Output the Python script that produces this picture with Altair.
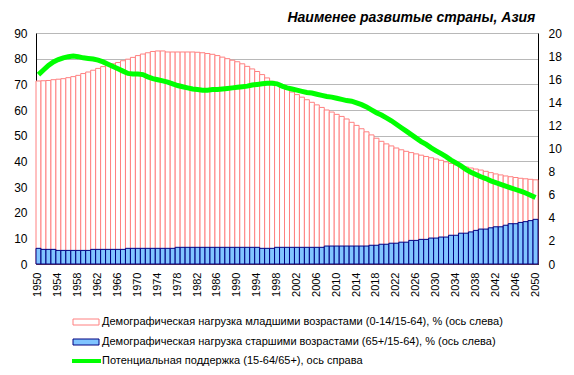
import altair as alt
import pandas as pd

years = list(range(1950, 2051))

young = [
    71.3, 71.4, 71.5, 71.8, 72.0, 72.2, 72.6, 73.0, 73.5, 74.2,
    74.8, 75.5, 76.2, 76.9, 77.5, 78.0, 78.5, 79.2, 79.8, 80.5,
    81.2, 81.8, 82.3, 82.8, 83.0, 83.0, 82.6, 82.6, 82.6, 82.6,
    82.6, 82.6, 82.5, 82.3, 82.0, 81.7, 81.2, 80.6, 80.0, 79.4,
    78.8, 78.0, 77.0, 76.0, 75.0, 73.8, 72.5, 71.2, 70.0, 69.0,
    68.0, 67.0, 66.0, 65.0, 64.0, 63.0, 62.0, 61.0, 60.0, 59.2,
    58.3, 57.5, 56.5, 55.2, 54.0, 52.7, 51.5, 50.3, 49.0, 47.8,
    46.8, 46.0, 45.2, 44.5, 43.9, 43.4, 42.9, 42.4, 41.9, 41.4,
    40.9, 40.4, 39.8, 39.2, 38.6, 38.2, 37.8, 37.4, 37.0, 36.6,
    36.1, 35.6, 35.1, 34.7, 34.3, 34.0, 33.7, 33.4, 33.2, 33.0,
    32.8,
]

old = [
    6.1, 5.7, 5.7, 5.7, 5.3, 5.3, 5.3, 5.3, 5.3, 5.3,
    5.3, 5.7, 5.7, 5.7, 5.7, 5.7, 5.7, 5.7, 6.1, 6.1,
    6.1, 6.1, 6.1, 6.1, 6.1, 6.1, 6.1, 6.1, 6.5, 6.5,
    6.5, 6.5, 6.5, 6.5, 6.5, 6.5, 6.5, 6.5, 6.5, 6.5,
    6.5, 6.5, 6.5, 6.5, 6.5, 6.1, 6.1, 6.1, 6.5, 6.5,
    6.5, 6.5, 6.5, 6.5, 6.5, 6.5, 6.5, 6.5, 7.0, 7.0,
    7.0, 7.0, 7.0, 7.0, 7.0, 7.0, 7.0, 7.3, 7.3, 7.7,
    7.7, 8.1, 8.1, 8.5, 8.5, 9.2, 9.2, 9.6, 9.6, 10.1,
    10.1, 10.5, 10.5, 11.2, 11.2, 12.0, 12.0, 12.5, 13.1, 13.6,
    13.6, 14.1, 14.5, 14.5, 15.1, 15.7, 15.7, 16.2, 16.5, 16.9,
    17.4,
]

support = [
    16.4, 16.8, 17.2, 17.5, 17.7, 17.85, 17.95, 18.0, 17.95, 17.85,
    17.8, 17.75, 17.65, 17.5, 17.3, 17.1, 16.9, 16.7, 16.5, 16.45,
    16.45, 16.4, 16.2, 16.05, 15.95, 15.85, 15.75, 15.6, 15.45, 15.35,
    15.25, 15.15, 15.1, 15.05, 15.05, 15.1, 15.1, 15.15, 15.2, 15.25,
    15.3, 15.35, 15.4, 15.5, 15.55, 15.6, 15.65, 15.65, 15.6, 15.4,
    15.25, 15.15, 15.05, 14.95, 14.85, 14.8, 14.7, 14.6, 14.5, 14.45,
    14.35, 14.25, 14.15, 14.1, 13.95, 13.8, 13.6, 13.35, 13.1, 12.9,
    12.65, 12.4, 12.1, 11.8, 11.5, 11.2, 10.9, 10.6, 10.35, 10.05,
    9.8, 9.55, 9.3, 9.0, 8.75, 8.5, 8.2, 7.95, 7.75, 7.55,
    7.4, 7.2, 7.05, 6.9, 6.75, 6.6, 6.45, 6.3, 6.15, 5.95,
    5.75,
]

year_ticks = list(range(1950, 2051, 4))
left_ticks = list(range(0, 91, 10))
right_ticks = list(range(0, 21, 2))

title_text = "Наименее развитые страны, Азия"
legend_labels = [
    "Демографическая нагрузка младшими возрастами (0-14/15-64), % (ось слева)",
    "Демографическая нагрузка старшими возрастами (65+/15-64), % (ось слева)",
    "Потенциальная поддержка (15-64/65+), ось справа",
]

df = pd.DataFrame({"year": years, "young": young, "old": old, "support": support})

FONT = "Liberation Sans"
W, H = 502, 231
PINK = "#FF8080"
BLUE_FILL = "#80C4FF"
BLUE_STROKE = "#000080"
GREEN = "#00FF00"

xenc = alt.X(
    "year:O",
    scale=alt.Scale(paddingInner=0, paddingOuter=0),
    axis=alt.Axis(
        values=year_ticks, labelAngle=270, title=None, ticks=False,
        labelPadding=8, labelFontSize=11, labelFont=FONT, labelColor="black",
        domainColor="black", labelAlign="right", labelBaseline="middle",
    ),
)

left_scale = alt.Scale(domain=[0, 90], nice=False, zero=True)
left_axis = alt.Axis(
    values=left_ticks, title=None, orient="left", ticks=False,
    labelPadding=9, labelFontSize=12, labelFont=FONT, labelColor="black",
    domainColor="black", grid=True, gridColor="#B8B8B8", labelOverlap=False,
    tickCount=10,
)

young_bars = alt.Chart(df).mark_bar(fill="white", stroke=PINK, strokeWidth=1).encode(
    x=xenc,
    y=alt.Y("young:Q", scale=left_scale, axis=left_axis),
)

old_bars = alt.Chart(df).mark_bar(fill=BLUE_FILL, stroke=BLUE_STROKE, strokeWidth=1).encode(
    x=xenc,
    y=alt.Y("old:Q", scale=left_scale, axis=left_axis),
)

bars = alt.layer(young_bars, old_bars)

line = alt.Chart(df).mark_line(color=GREEN, strokeWidth=5).encode(
    x=xenc,
    y=alt.Y(
        "support:Q", scale=alt.Scale(domain=[0, 20], nice=False),
        axis=alt.Axis(
            values=right_ticks, title=None, orient="right", ticks=False,
            labelPadding=10, labelFontSize=12, labelFont=FONT, labelColor="black",
            domainColor="black", grid=False, labelOverlap=False,
        ),
    ),
)

one = pd.DataFrame({"k": [0]})
ly = [289, 309, 328]

leg1_sym = alt.Chart(one).mark_rect(fill="white", stroke=PINK, strokeWidth=1).encode(
    x=alt.value(37), x2=alt.value(63), y=alt.value(ly[0] - 3), y2=alt.value(ly[0] + 3)
)
leg2_sym = alt.Chart(one).mark_rect(fill=BLUE_FILL, stroke=BLUE_STROKE, strokeWidth=1).encode(
    x=alt.value(37), x2=alt.value(63), y=alt.value(ly[1] - 3), y2=alt.value(ly[1] + 3)
)
leg3_sym = alt.Chart(one).mark_rule(color=GREEN, strokeWidth=4).encode(
    x=alt.value(36), x2=alt.value(65), y=alt.value(ly[2])
)
leg_texts = [
    alt.Chart(one).mark_text(
        align="left", baseline="middle", font=FONT, fontSize=11, color="black"
    ).encode(x=alt.value(66), y=alt.value(ly[i]), text=alt.value(legend_labels[i]))
    for i in range(3)
]

chart = alt.layer(
    bars, line, leg1_sym, leg2_sym, leg3_sym, *leg_texts
).resolve_scale(y="independent").properties(
    width=W, height=H,
    title=alt.TitleParams(
        title_text, anchor="end", font=FONT, fontSize=14, fontWeight="bold",
        fontStyle="italic", color="black", offset=2, dx=-26,
    ),
    padding={"left": 28, "top": 25, "right": 28, "bottom": 103},
    autosize=alt.AutoSizeParams(type="none"),
).configure_view(stroke="#808080", strokeWidth=1).configure(background="white")

chart.save("out.html", embed_options={"renderer": "svg", "actions": False})
